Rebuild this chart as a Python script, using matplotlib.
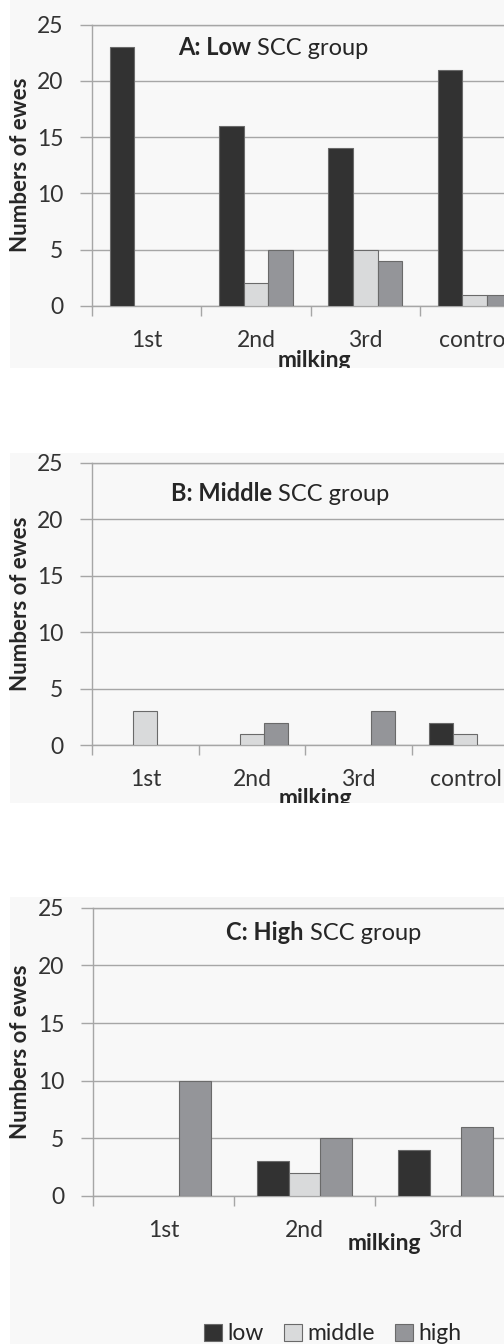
import numpy as np
import matplotlib
matplotlib.use("Agg")
import matplotlib.pyplot as plt
from matplotlib.patches import Rectangle, Patch
from matplotlib.transforms import Bbox, TransformedBbox

plt.rcParams['font.family'] = ['Lato', 'DejaVu Sans']

# ---- data -------------------------------------------------------------
series = ['low', 'middle', 'high']
series_colors = ['#323232', '#d9dadb', '#949599']

cats_a = ['1st', '2nd', '3rd', 'control']
low_a = [23, 16, 14, 21]
middle_a = [0, 2, 5, 1]
high_a = [0, 5, 4, 1]

cats_b = ['1st', '2nd', '3rd', 'control']
low_b = [0, 0, 0, 2]
middle_b = [3, 1, 0, 1]
high_b = [0, 2, 3, 0]

cats_c = ['1st', '2nd', '3rd']
low_c = [0, 3, 4]
middle_c = [0, 2, 0]
high_c = [10, 5, 6]

y_ticks = [0, 5, 10, 15, 20, 25]

# ---- layout (pixels) --------------------------------------------------
W, H = 504, 1344
fig = plt.figure(figsize=(W / 100, H / 100), dpi=100)
fig.patch.set_facecolor('white')

GRID = '#a6a6a6'
TXT = '#333333'
DARK = '#262626'
PANEL_BG = '#f8f8f8'

TICK_FS = 16.5
TITLE_FS = 17
YLAB_FS = 16
XLAB_FS = 16.5
LEG_FS = 16.5


def fig_box(x0, top, x1, bottom):
    return [x0 / W, 1 - bottom / H, (x1 - x0) / W, (bottom - top) / H]


def fy(y):
    return 1 - y / H


panels = [
    dict(cats=cats_a, vals=[low_a, middle_a, high_a],
         axbox=(92, 24.5, 92 + 4 * 109.3, 306),
         bg=(10, 0, 504, 368),
         title=('A: Low', ' SCC group'), title_xy=(178, 55),
         xlabel_xy=(314, 367)),
    dict(cats=cats_b, vals=[low_b, middle_b, high_b],
         axbox=(92, 463, 92 + 4 * 106.7, 745.3),
         bg=(10, 453, 504, 803),
         title=('B: Middle', ' SCC group'), title_xy=(171, 501),
         xlabel_xy=(315, 805)),
    dict(cats=cats_c, vals=[low_c, middle_c, high_c],
         axbox=(93, 907.7, 93 + 3 * 141, 1196),
         bg=(10, 897, 504, 1344),
         title=('C: High', ' SCC group'), title_xy=(226, 940),
         xlabel_xy=(384, 1250)),
]

bw = 0.225
for p in panels:
    bx0, by0, bx1, by1 = p['bg']
    bg = Rectangle((bx0 / W, fy(by1)), (bx1 - bx0) / W, (by1 - by0) / H,
                   transform=fig.transFigure, facecolor=PANEL_BG,
                   edgecolor='none', zorder=-5)
    fig.patches.append(bg)
    clip = TransformedBbox(Bbox.from_extents(bx0 / W, fy(by1), bx1 / W, fy(by0)),
                           fig.transFigure)

    ax = fig.add_axes(fig_box(*p['axbox']))
    ax.set_facecolor('none')
    cats = p['cats']
    n = len(cats)
    x = np.arange(n)
    for j, (vals, col) in enumerate(zip(p['vals'], series_colors)):
        bars = ax.bar(x + (j - 1) * bw, vals, bw, color=col,
                      edgecolor='#6a6a6a', linewidth=0.8, zorder=3)
        for b, v in zip(bars, vals):
            if v == 0:
                b.set_visible(False)

    ax.set_xlim(-0.5, n - 0.5)
    ax.set_ylim(0, 25)
    ax.set_yticks(y_ticks)
    ax.set_xticks(np.arange(n + 1) - 0.5)
    ax.set_xticklabels([])
    ax.set_xticks(x, minor=True)
    ax.set_xticklabels(cats, minor=True)
    ax.tick_params(axis='x', which='major', length=7, width=1,
                   direction='out', color=GRID)
    ax.tick_params(axis='x', which='minor', length=0, pad=17,
                   labelsize=TICK_FS, labelcolor=TXT)
    ax.tick_params(axis='y', length=9, width=1, direction='out',
                   color=GRID, pad=11.5, labelsize=TICK_FS, labelcolor=TXT)
    ax.yaxis.grid(True, color=GRID, linewidth=1)
    ax.set_axisbelow(True)
    ax.spines['right'].set_visible(False)
    for s in ['left', 'bottom', 'top']:
        ax.spines[s].set_color(GRID)
        ax.spines[s].set_linewidth(1)

    ax_w = p['axbox'][2] - p['axbox'][0]
    ax.set_ylabel('Numbers of ewes', fontsize=YLAB_FS, fontweight='bold',
                  color=DARK, va='center')
    ax.yaxis.set_label_coords((21 - p['axbox'][0]) / ax_w, 0.5)

    # milking axis title (cropped with the panel)
    xl = fig.text(p['xlabel_xy'][0] / W, fy(p['xlabel_xy'][1]), 'milking',
                  ha='center', va='baseline', fontsize=XLAB_FS,
                  fontweight='bold', color=DARK)
    xl.set_clip_box(clip)
    xl.set_clip_on(True)

    # panel title: bold lead plus regular remainder
    t_bold, t_rest = p['title']
    t1 = fig.text(p['title_xy'][0] / W, fy(p['title_xy'][1]), t_bold,
                  ha='left', va='baseline', fontsize=TITLE_FS,
                  fontweight='bold', color=DARK)
    ax.annotate(t_rest, xy=(1, 0), xycoords=t1, ha='left', va='bottom',
                fontsize=TITLE_FS, color=DARK, annotation_clip=False)

handles = [Patch(facecolor=c, edgecolor='#6a6a6a', linewidth=0.8)
           for c in series_colors]
fig.legend(handles, series, loc='center', bbox_to_anchor=(333 / W, fy(1334)),
           ncol=3, frameon=False, fontsize=LEG_FS, handlelength=0.75,
           handleheight=0.75, handletextpad=0.25, columnspacing=0.9,
           labelcolor=DARK)

fig.savefig('out.png', dpi=100)
